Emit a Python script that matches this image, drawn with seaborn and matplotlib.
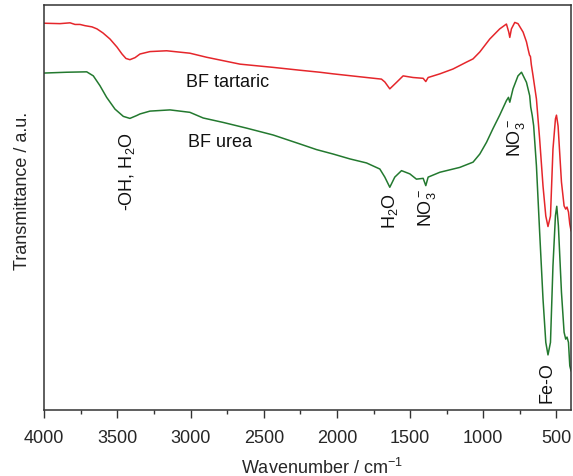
import matplotlib
matplotlib.use("Agg")
import matplotlib.pyplot as plt
from matplotlib.ticker import MultipleLocator
import seaborn as sns
import pandas as pd

# FTIR spectra of the two ferrite samples (transmittance in arbitrary units)
wn_tartaric = [4000, 3893, 3824, 3790, 3756, 3722, 3674, 3640, 3599, 3551,
               3503, 3469, 3442, 3415, 3380, 3346, 3278, 3164, 3005, 2891,
               2663, 2436, 2254, 2117, 2026, 1798, 1696, 1673, 1639,
               1593, 1548, 1480, 1411, 1393, 1377, 1297, 1207, 1115, 1070,
               1024, 956, 888, 842, 826, 819, 808, 785,
               763, 728, 705, 694, 684, 678, 672, 660, 637, 615,
               592, 573, 558, 541, 524, 507, 500, 489, 466, 448,
               437, 428, 418, 409, 400]
t_tartaric = [95.5, 95.4, 95.6, 95.2, 95.2, 94.9, 94.6, 94.1, 93.1, 91.6,
              89.6, 87.9, 86.8, 86.5, 87.0, 87.9, 88.5, 88.7, 88.1, 87.1,
              85.4, 84.6, 83.9, 83.4, 83.0, 82.1, 81.7, 81.0, 79.3,
              80.9, 82.5, 82.1, 81.9, 81.1, 82.1, 83.0, 84.2, 85.9, 86.7,
              88.4, 91.6, 94.1, 95.3, 93.3, 92.0, 94.1, 95.7,
              95.4, 93.3, 90.9, 89.1, 87.6, 87.3, 85.3, 82.5, 76.8, 66.9,
              55.3, 47.9, 45.3, 47.9, 64.4, 71.9, 72.8, 70.1, 56.3, 50.4,
              49.6, 50.1, 48.9, 45.9, 44.2]

wn_urea = [4000, 3847, 3710, 3665, 3620, 3574, 3517, 3460, 3415, 3369,
           3346, 3278, 3141, 3005, 2914, 2777, 2618, 2436, 2254,
           2140, 2026, 1912, 1798, 1707, 1673, 1639, 1605, 1559, 1502,
           1457, 1411, 1393, 1377, 1297, 1161, 1070, 1024, 978, 935,
           888, 842, 828, 819,
           797, 763, 739, 705, 683, 676, 666, 656, 637, 615,
           592, 573, 558, 541, 524, 507, 498, 487, 466, 448,
           437, 428, 418, 409, 400]
t_urea = [83.2, 83.4, 83.5, 82.5, 80.1, 77.2, 74.3, 72.5, 72.0, 72.7,
          73.1, 73.8, 74.1, 73.5, 72.1, 71.0, 69.6, 67.9, 65.7,
          64.3, 63.2, 62.0, 61.0, 59.5, 57.5, 55.0, 57.5, 59.1, 58.3,
          57.0, 57.2, 55.4, 57.5, 58.7, 59.9, 61.2, 63.2, 66.1, 69.4,
          72.8, 76.4, 77.2, 76.0,
          79.3, 82.5, 83.4, 80.9, 77.6, 74.8, 72.8, 70.2, 60.3, 43.9,
          27.4, 16.7, 13.6, 16.7, 35.6, 48.0, 50.3, 45.5, 29.1, 19.2,
          17.5, 18.0, 16.7, 10.9, 9.6]

# Band assignments: (label, wavenumber, transmittance)
band_labels = ["-OH, H$_2$O", "H$_2$O", "NO$_3^-$", "NO$_3^-$", "Fe-O"]
band_wn = [3435, 1639, 1383, 775, 563]
band_t = [59.0, 49.4, 50.1, 67.5, 6.9]

sample_labels = ["BF tartaric", "BF urea"]
sample_wn = [2745, 2799]
sample_t = [81.0, 66.2]

red = "#e5262b"
green = "#23792f"

sns.set_style("ticks")
plt.rcParams["font.family"] = ["Liberation Sans", "DejaVu Sans"]
plt.rcParams["mathtext.fontset"] = "custom"
plt.rcParams["mathtext.rm"] = "Liberation Sans"
plt.rcParams["mathtext.it"] = "Liberation Sans:italic"
plt.rcParams["mathtext.bf"] = "Liberation Sans:bold"
plt.rcParams["mathtext.default"] = "regular"

fig = plt.figure(figsize=(5.73, 4.77), dpi=100)
ax = fig.add_axes([0.0773, 0.1384, 0.9194, 0.8490])

df_t = pd.DataFrame({"wn": wn_tartaric, "T": t_tartaric})
df_u = pd.DataFrame({"wn": wn_urea, "T": t_urea})
sns.lineplot(data=df_t, x="wn", y="T", ax=ax, color=red, lw=1.1,
             estimator=None, sort=False)
sns.lineplot(data=df_u, x="wn", y="T", ax=ax, color=green, lw=1.1,
             estimator=None, sort=False)

ax.set_xlim(4000, 400)
ax.set_ylim(0, 100)
ax.xaxis.set_major_locator(MultipleLocator(500))
ax.xaxis.set_minor_locator(MultipleLocator(250))
ax.set_yticks([])
ax.tick_params(axis="x", which="major", direction="out", length=6, width=1.0,
               labelsize=13, pad=8, color="#333333", top=False)
ax.tick_params(axis="x", which="minor", direction="out", length=3, width=1.0,
               color="#333333", top=False)
for s in ax.spines.values():
    s.set_visible(True)
    s.set_linewidth(1.1)
    s.set_color("#333333")

ax.set_xlabel("Wavenumber / cm$^{-1}$", fontsize=13)
ax.set_ylabel("Transmittance / a.u.", fontsize=13)
ax.xaxis.set_label_coords(0.527, -0.115)
ax.yaxis.set_label_coords(-0.026, 0.543)

for lab, x, y in zip(band_labels, band_wn, band_t):
    ax.text(x, y, lab, rotation=90, ha="center", va="center", fontsize=13,
            color="#111111")
for lab, x, y in zip(sample_labels, sample_wn, sample_t):
    ax.text(x, y, lab, ha="center", va="center", fontsize=13, color="#111111")

fig.savefig("out.png", dpi=100)
